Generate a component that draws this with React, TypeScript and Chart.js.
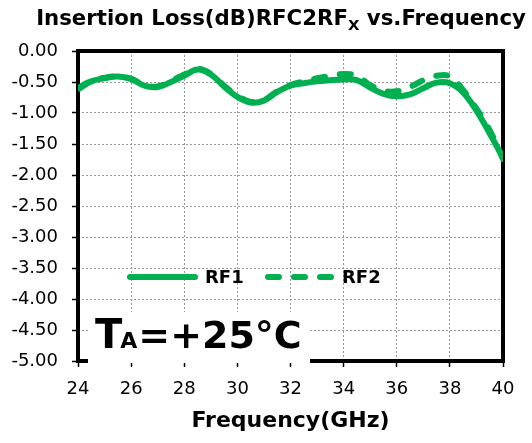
import React, { useEffect, useRef } from "react";
import { Chart, registerables } from "chart.js";

Chart.register(...registerables);

const freqs = [24, 24.5, 25, 25.5, 26, 26.5, 27, 27.5, 28, 28.5, 29, 29.5, 30, 30.5, 31, 31.5, 32, 32.5, 33, 33.5, 34, 34.5, 35, 35.5, 36, 36.5, 37, 37.5, 38, 38.5, 39, 39.5, 40];
const rf1 = [-0.62, -0.49, -0.44, -0.41, -0.45, -0.56, -0.58, -0.5, -0.4, -0.3, -0.38, -0.57, -0.74, -0.83, -0.8, -0.66, -0.56, -0.52, -0.49, -0.47, -0.46, -0.47, -0.59, -0.69, -0.73, -0.7, -0.6, -0.51, -0.52, -0.67, -0.96, -1.33, -1.72];
const rf2 = [-0.6, -0.48, -0.43, -0.41, -0.45, -0.55, -0.57, -0.48, -0.38, -0.29, -0.37, -0.56, -0.72, -0.82, -0.79, -0.65, -0.55, -0.49, -0.44, -0.4, -0.37, -0.4, -0.55, -0.64, -0.65, -0.58, -0.47, -0.4, -0.41, -0.63, -0.93, -1.28, -1.74];
const seriesNames = ["RF1", "RF2"];
const xTicks = [24, 26, 28, 30, 32, 34, 36, 38, 40];
const yMin = -5;
const yMax = 0;
const GREEN = "#00B050";
const FONT = "'DejaVu Sans', Verdana, sans-serif";

const overlay = {
  id: "overlay",
  beforeDatasetsDraw(chart: any) {
    const { ctx, chartArea: a } = chart;
    ctx.save();
    ctx.strokeStyle = "#000";
    ctx.lineWidth = 4;
    ctx.strokeRect(a.left, a.top, a.right - a.left, a.bottom - a.top);
    ctx.restore();
  },
  afterDraw(chart: any) {
    const { ctx, chartArea: a } = chart;
    ctx.save();
    // Title with subscript
    const p1 = "Insertion Loss(dB)RFC2RF";
    const sub = "X";
    const p2 = " vs.Frequency";
    let fs = 18;
    ctx.font = `bold ${fs}px ${FONT}`;
    const w1 = ctx.measureText(p1).width + ctx.measureText(p2).width;
    ctx.font = `bold ${fs * 0.7}px ${FONT}`;
    const ws = ctx.measureText(sub).width;
    const target = 490;
    fs = fs * target / (w1 + ws);
    ctx.font = `bold ${fs}px ${FONT}`;
    const a1 = ctx.measureText(p1).width;
    const a2 = ctx.measureText(p2).width;
    ctx.font = `bold ${fs * 0.7}px ${FONT}`;
    const as = ctx.measureText(sub).width;
    let x = 281 - (a1 + a2 + as) / 2;
    const ty = 25;
    ctx.fillStyle = "#000";
    ctx.textBaseline = "alphabetic";
    ctx.textAlign = "left";
    ctx.font = `bold ${fs}px ${FONT}`;
    ctx.fillText(p1, x, ty);
    x += a1;
    ctx.font = `bold ${fs * 0.7}px ${FONT}`;
    ctx.fillText(sub, x, ty + 5);
    x += as;
    ctx.font = `bold ${fs}px ${FONT}`;
    ctx.fillText(p2, x, ty);

    // X axis title
    ctx.font = `bold 22px ${FONT}`;
    ctx.textAlign = "center";
    ctx.textBaseline = "middle";
    ctx.fillText("Frequency(GHz)", (a.left + a.right) / 2, 421);

    // Legend
    const ly = 277;
    ctx.strokeStyle = GREEN;
    ctx.lineWidth = 6;
    ctx.lineCap = "round";
    ctx.beginPath();
    ctx.moveTo(130, ly);
    ctx.lineTo(195, ly);
    ctx.stroke();
    ctx.setLineDash([11, 15]);
    ctx.beginPath();
    ctx.moveTo(268, ly);
    ctx.lineTo(334, ly);
    ctx.stroke();
    ctx.setLineDash([]);
    ctx.font = `bold 18px ${FONT}`;
    ctx.textAlign = "left";
    ctx.textBaseline = "middle";
    ctx.fillStyle = "#000";
    ctx.fillText(seriesNames[0], 205, ly + 1);
    ctx.fillText(seriesNames[1], 342, ly + 1);

    // Temperature box
    ctx.fillStyle = "#fff";
    ctx.fillRect(88, 312, 222, 51);
    ctx.fillStyle = "#000";
    ctx.textBaseline = "alphabetic";
    const by = 348;
    ctx.font = `bold 40px ${FONT}`;
    let bx = 95;
    ctx.fillText("T", bx, by);
    bx += ctx.measureText("T").width - 2;
    ctx.font = `bold 22px ${FONT}`;
    ctx.fillText("A", bx, by);
    bx += ctx.measureText("A").width + 1;
    ctx.font = `bold 38px ${FONT}`;
    ctx.fillText("=+25°C", bx, by);
    ctx.restore();
  },
};

export default function App() {
  const ref = useRef<HTMLCanvasElement>(null);
  useEffect(() => {
    document.body.style.margin = "0";
    const chart = new Chart(ref.current!, {
      type: "line",
      data: {
        datasets: [
          {
            label: seriesNames[0],
            data: freqs.map((f, i) => ({ x: f, y: rf1[i] })),
            borderColor: GREEN,
            borderWidth: 6,
            pointRadius: 0,
            tension: 0.4,
            fill: false,
          },
          {
            label: seriesNames[1],
            data: freqs.map((f, i) => ({ x: f, y: rf2[i] })),
            borderColor: GREEN,
            borderWidth: 6,
            borderDash: [11, 15],
            borderCapStyle: "round",
            pointRadius: 0,
            tension: 0.4,
            fill: false,
          },
        ],
      },
      options: {
        animation: false,
        responsive: false,
        layout: { padding: { top: 51, right: 29, left: 0, bottom: 0 } },
        plugins: { legend: { display: false }, title: { display: false }, tooltip: { enabled: false } },
        scales: {
          x: {
            type: "linear",
            min: xTicks[0],
            max: xTicks[xTicks.length - 1],
            afterBuildTicks: (s: any) => {
              s.ticks = xTicks.map((v) => ({ value: v }));
            },
            afterFit: (s: any) => {
              s.height = 82;
            },
            ticks: {
              color: "#000",
              font: { family: FONT, size: 18 },
              padding: 12,
              maxRotation: 0,
              callback: (v: any) => String(v),
            },
            grid: { color: "#999", lineWidth: 1, tickColor: "#000", tickLength: 6, tickWidth: 1.5 },
            border: { display: false, dash: [2, 2] },
          },
          y: {
            min: yMin,
            max: yMax,
            ticks: {
              stepSize: 0.5,
              color: "#000",
              font: { family: FONT, size: 18 },
              padding: 14,
              callback: (v: any) => Number(v).toFixed(2),
            },
            afterFit: (s: any) => {
              s.width = 78;
            },
            grid: { color: "#999", lineWidth: 1, tickColor: "#000", tickLength: 6, tickWidth: 1.5 },
            border: { display: false, dash: [2, 2] },
          },
        },
      },
      plugins: [overlay],
    } as any);
    return () => chart.destroy();
  }, []);
  return (
    <div style={{ position: "absolute", left: 0, top: 0, width: 532, height: 443 }}>
      <canvas ref={ref} width={532} height={443} />
    </div>
  );
}
